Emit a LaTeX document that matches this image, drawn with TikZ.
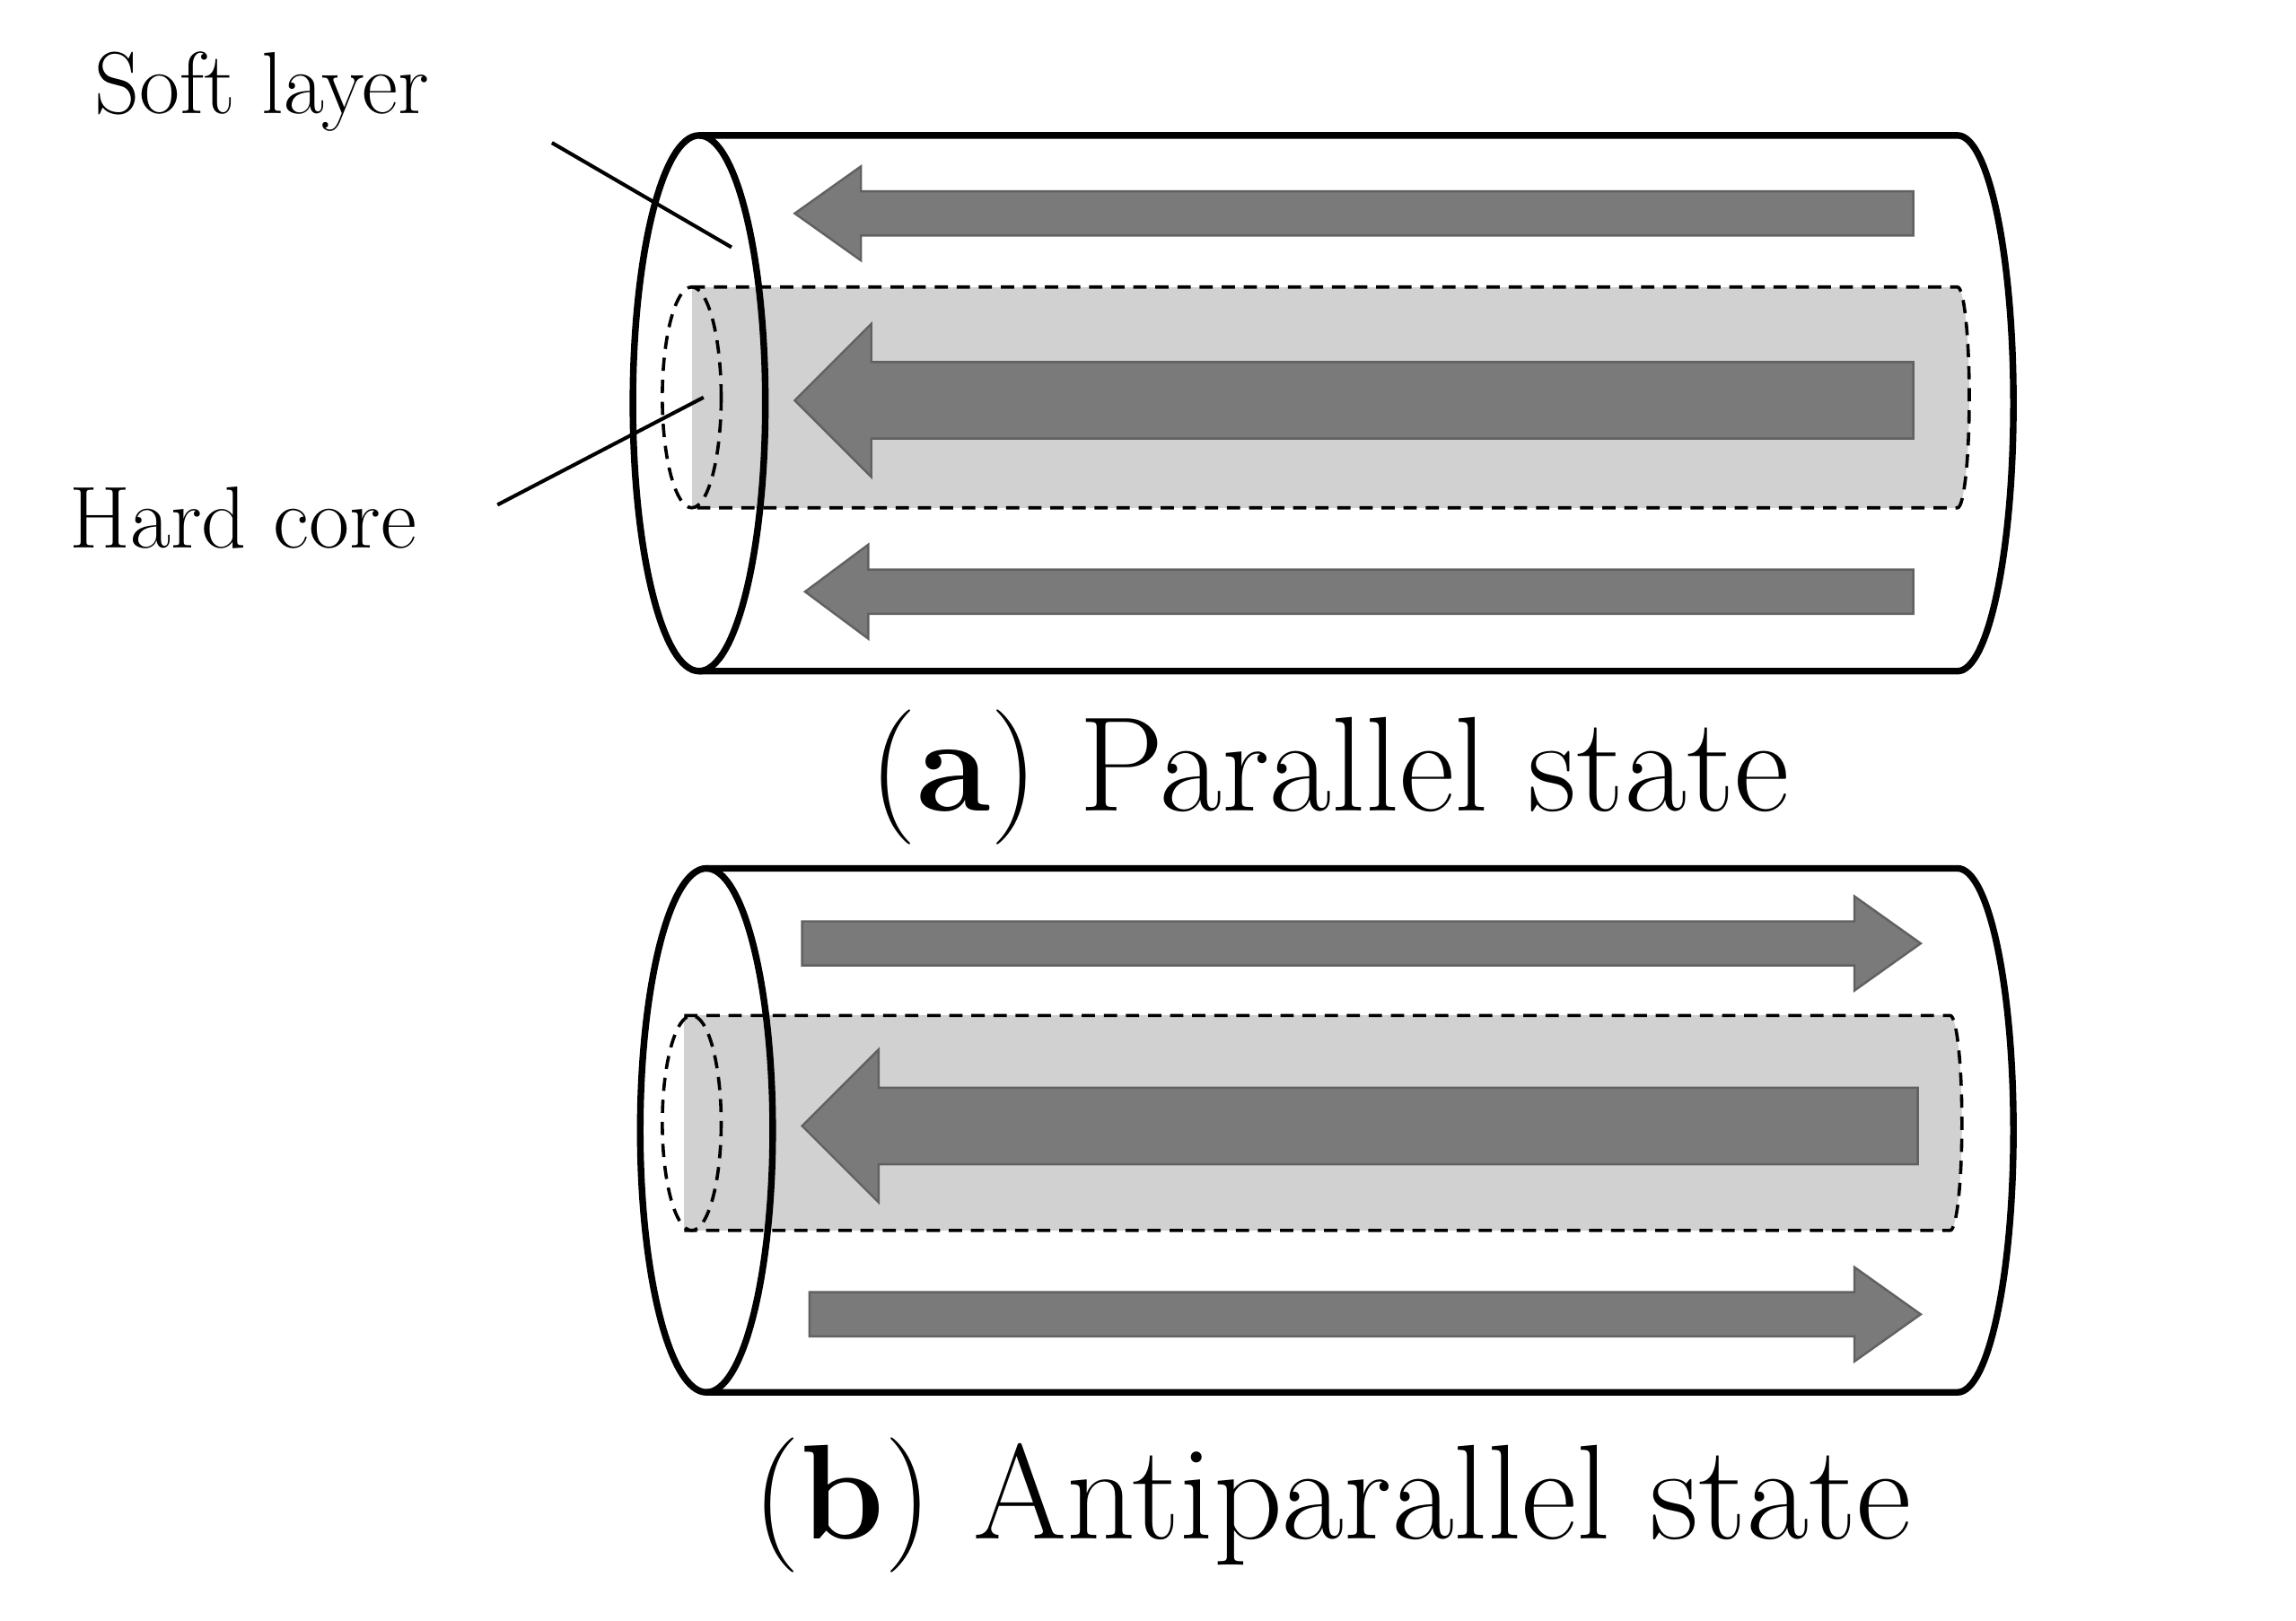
\documentclass[tikz,border=0pt]{standalone}
\usetikzlibrary{shapes.arrows}
\begin{document}
\begin{tikzpicture}[x=1bp,y=-1bp,
  outer/.style={line width=4.5bp},
  core/.style={dashed,line width=2.2bp,dash pattern=on 9bp off 6bp},
  arr/.style={fill=black!52,draw=black!62,line width=1.5bp},
  lbl/.style={font=\fontsize{60}{64}\selectfont},
  captxt/.style={font=\fontsize{92}{100}\selectfont}]
\useasboundingbox (0,0) rectangle (1560,1101);
% ---------- (a)
\fill[black!18] (470,195) rectangle (1330,345);
\fill[black!18] (1330,270) ellipse (8 and 75);
\draw[core] (470,195) -- (1330,195) arc (-90:90:8 and 75) -- (470,345);
\draw[core] (470,270) ellipse (20 and 75);
\draw[arr] (1300,130)--(585,130)--(585,113)--(540,145)--(585,177)--(585,160)--(1300,160)--cycle;
\draw[arr] (1300,246)--(592,246)--(592,220)--(540,272)--(592,324)--(592,298)--(1300,298)--cycle;
\draw[arr] (1300,387)--(590,387)--(590,370)--(547,402)--(590,434)--(590,417)--(1300,417)--cycle;
\draw[outer] (475,274) ellipse (45 and 182);
\draw[outer] (475,92) -- (1330,92) arc (-90:90:38 and 182) -- (475,456);
\node[lbl] (soft) at (178,62) {Soft layer};
\node[lbl] (hard) at (165,352) {Hard core};
\coordinate (s1) at (375,97); \coordinate (s2) at (497,168);
\coordinate (h1) at (338,343); \coordinate (h2) at (478,270);
\draw[line width=2.5bp] (s1)--(s2);
\draw[line width=2.5bp] (h1)--(h2);
\node[captxt] (ca) at (903,528) {(\textbf{a}) Parallel state};
% ---------- (b)
\fill[black!18] (465,690) rectangle (1325,836);
\fill[black!18] (1325,763) ellipse (8 and 73);
\draw[core] (465,690) -- (1325,690) arc (-90:90:8 and 73) -- (465,836);
\draw[core] (470,763) ellipse (20 and 73);
\draw[arr] (545,626)--(1260,626)--(1260,609)--(1305,641)--(1260,673)--(1260,656)--(545,656)--cycle;
\draw[arr] (1303,739)--(597,739)--(597,713)--(545,765)--(597,817)--(597,791)--(1303,791)--cycle;
\draw[arr] (550,878)--(1260,878)--(1260,861)--(1305,893)--(1260,925)--(1260,908)--(550,908)--cycle;
\draw[outer] (480,768) ellipse (45 and 178);
\draw[outer] (480,590) -- (1330,590) arc (-90:90:38 and 178) -- (480,946);
\node[captxt] (cb) at (905,1023) {(\textbf{b}) Antiparallel state};
\end{tikzpicture}
\end{document}
